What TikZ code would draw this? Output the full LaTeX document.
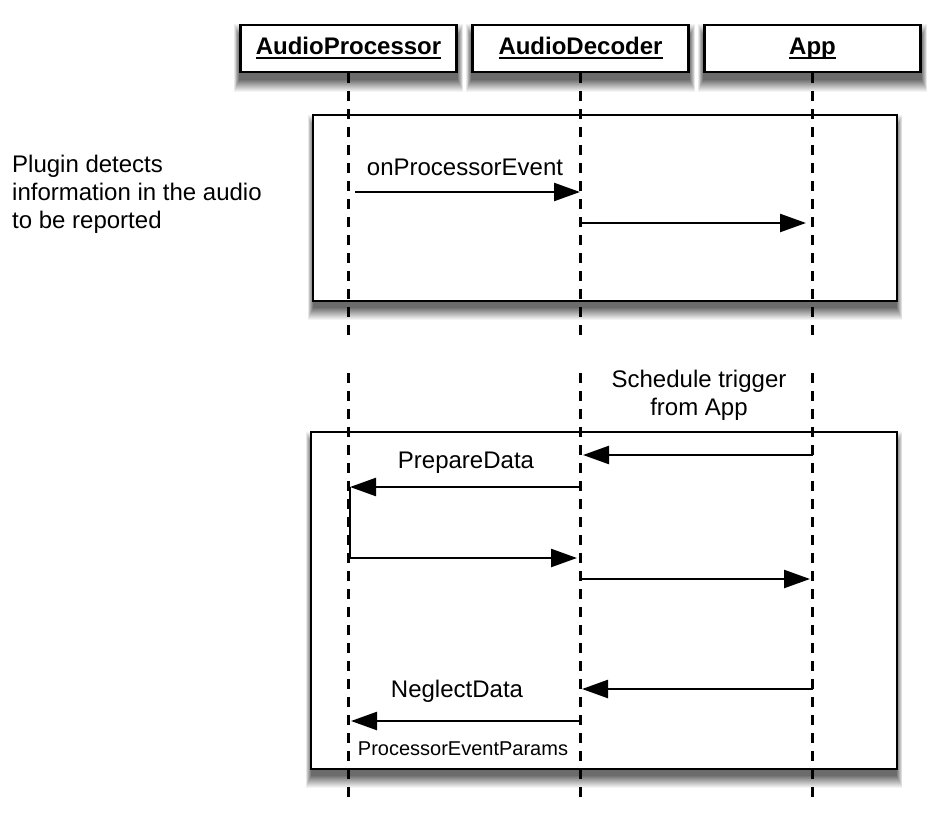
\documentclass[tikz,border=0pt]{standalone}
\usepackage{fontspec}
\setmainfont{Liberation Sans}
\usepackage{tikz}
\usetikzlibrary{positioning,arrows.meta,backgrounds}

\newcommand{\hdrtext}[1]{\setbox0=\hbox{\bfseries #1}\rlap{\copy0}\rule[-4.5bp]{\wd0}{2bp}}

\begin{document}
\begin{tikzpicture}[x=1bp, y=-1bp, node distance=232bp,
  main/.style = {draw, line width=2.8bp, fill=white, minimum width=216bp, minimum height=47bp, inner sep=0pt, font=\fontsize{24bp}{28bp}\selectfont},
  frame/.style = {draw, line width=2.8bp, fill=white},
  life/.style = {line width=2.2bp, dash pattern=on 10bp off 8bp},
  msg/.style = {line width=2.4bp, -{Triangle[length=26bp, width=18bp]}},
  lbl/.style = {font=\fontsize{24bp}{28bp}\selectfont, inner sep=0pt}]
\useasboundingbox (0,0) rectangle (952,818);

% frames
\draw[frame] (313,115) coordinate (f1a) rectangle (897,301) coordinate (f1b);
\draw[frame] (311,432) coordinate (f2a) rectangle (897,769) coordinate (f2b);

% objects
\node[main] (1) at (348.5,48.5) {\hdrtext{AudioProcessor}};
\node[main] (2) [right of = 1] {\hdrtext{AudioDecoder}};
\node[main] (3) [right of = 2] {\hdrtext{App}};

% shadows
\begin{scope}[on background layer]
\foreach \k in {12,11,...,0} {
  \pgfmathsetmacro\c{58*(1-\k/13)}
  \foreach \a/\b in {1.north west/1.south east, 2.north west/2.south east, 3.north west/3.south east, f1a/f1b, f2a/f2b}
    \fill[black!\c] ([shift={(-0.45*\k,12-\k)}]\a) rectangle ([shift={(0.45*\k,7+\k)}]\b);
}
\end{scope}

% lifelines
\foreach \n in {1,2,3} {
  \draw[life] (\n.south) -- (\n.south |- 0,337);
  \draw[life] (\n.south |- 0,373) -- (\n.south |- 0,800);
}

% message end points
\coordinate (m1s) at (355,192); \coordinate (m1e) at (580,192);
\coordinate (m2s) at (581,223); \coordinate (m2e) at (806,223);
\coordinate (m3s) at (813,455); \coordinate (m3e) at (583,455);
\coordinate (m4s) at (581,487); \coordinate (m4e) at (350,487);
\coordinate (m5c) at (350,558); \coordinate (m5e) at (577,558);
\coordinate (m6s) at (581,579); \coordinate (m6e) at (810,579);
\coordinate (m7s) at (813,689); \coordinate (m7e) at (582,689);
\coordinate (m8s) at (580,721); \coordinate (m8e) at (351,721);

% messages
\draw[msg] (m1s) -- (m1e);
\draw[msg] (m2s) -- (m2e);
\draw[msg] (m3s) -- (m3e);
\draw[msg] (m4s) -- (m4e);
\draw[msg] (m4e) -- (m5c) -- (m5e);
\draw[msg] (m6s) -- (m6e);
\draw[msg] (m7s) -- (m7e);
\draw[msg] (m8s) -- (m8e);

% labels
\node[lbl, anchor=west, align=left] (note) at (12,194) {Plugin detects\\information in the audio\\to be reported};
\node[lbl, anchor=base] (ev) at (465,175) {onProcessorEvent};
\node[lbl, align=center] (trig) at (699,395) {Schedule trigger\\from App};
\node[lbl, anchor=base] (prep) at (466,468) {PrepareData};
\node[lbl, anchor=base] (negl) at (457,697) {NeglectData};
\node[lbl, anchor=base, font=\fontsize{20bp}{24bp}\selectfont] (par) at (463,755) {ProcessorEventParams};
\end{tikzpicture}
\end{document}
